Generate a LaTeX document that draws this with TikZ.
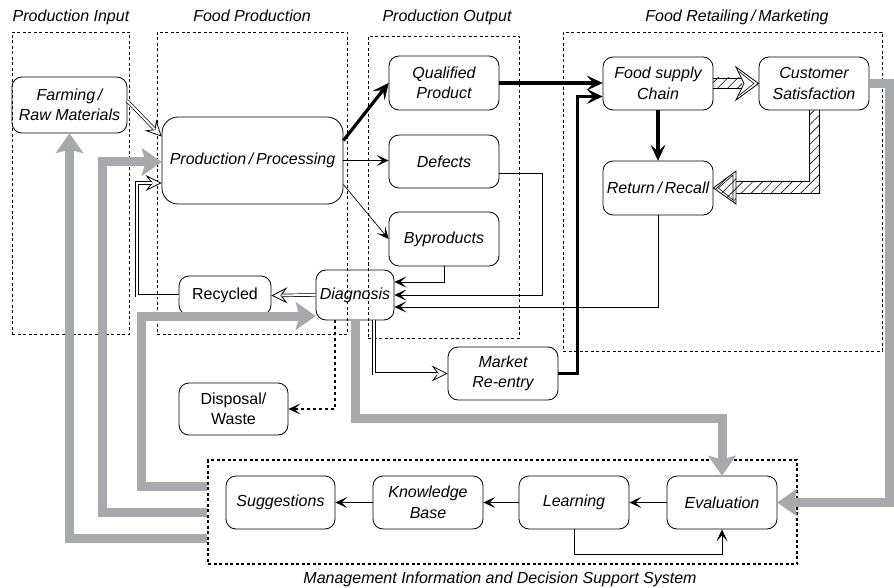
\documentclass[tikz,border=0pt]{standalone}
\usepackage{fontspec}
\setmainfont{Liberation Sans}
\usetikzlibrary{arrows.meta,patterns.meta,calc}
\definecolor{grayc}{RGB}{167,169,172}
\newcommand\dblarrow[1]{\draw[dtip] #1; \draw[dline] #1;}
\begin{document}
\begin{tikzpicture}[x=1pt,y=-1pt,
  every node/.style={font=\fontsize{16}{20.5}\selectfont},
  box/.style={draw, line width=0.8pt, rounded corners=10pt, align=center, inner sep=0pt, font=\fontsize{16}{20.5}\selectfont\itshape},
  ubox/.style={box, font=\fontsize{16}{20.5}\selectfont},
  grp/.style={draw, line width=0.8pt, dash pattern=on 3pt off 2.5pt, inner sep=0pt},
  ttl/.style={font=\fontsize{16}{20}\selectfont\itshape, anchor=base},
  ln/.style={line width=0.7pt, -{Stealth[length=12pt,width=11pt,inset=6pt]}},
  thk/.style={line width=3.2pt, -{Stealth[length=16pt,width=15pt,inset=7pt,line width=0.5pt]}},
  dtip/.style={line width=0.8pt, -{Stealth[fill=white,length=16pt,width=16pt,inset=6pt]}},
  dline/.style={double, double distance=2pt, line width=0.7pt, shorten >=10pt},
  gry/.style={draw=grayc, line width=9pt, line join=miter, -{Stealth[length=20pt,width=28pt,inset=4pt,line width=0.1pt]}},
  hatch/.style={pattern={Lines[angle=45,distance=7pt,line width=0.6pt]}}
]
\useasboundingbox (0,0) rectangle (894,588);

% group boxes
\node[grp, minimum width=117pt, minimum height=302pt] (pin) at (70.5,183) {};
\node[grp, minimum width=190pt, minimum height=302pt] (fp) at (252,183) {};
\node[grp, minimum width=151pt, minimum height=302pt] (pout) at (443.5,187) {};
\node[grp, minimum width=319pt, minimum height=319pt] (fr) at (722.5,191.5) {};
\node[grp, line width=1.1pt, minimum width=589pt, minimum height=104pt] (mis) at (502.5,512) {};

% titles
\node[ttl] (t1) at (71,22) {Production Input};
\node[ttl] (t2) at (252,22) {Food Production};
\node[ttl] (t3) at (447,22) {Production Output};
\node[ttl] (t4) at (737,22) {Food Retailing\,/\,Marketing};
\node[ttl] (t5) at (500,583) {Management Information and Decision Support System};

% nodes
\node[box, minimum width=115pt, minimum height=56pt] (farm) at (69.5,105) {Farming\,/\\Raw Materials};
\node[box, rounded corners=16pt, minimum width=181pt, minimum height=87pt] (prod) at (252.5,160.5) {Production\,/\,Processing};
\node[box, minimum width=110pt, minimum height=54pt] (qual) at (444,83) {Qualified\\Product};
\node[box, minimum width=110pt, minimum height=53pt] (def) at (444,161.5) {Defects};
\node[box, minimum width=110pt, minimum height=54pt] (byp) at (444,239) {Byproducts};
\node[box, minimum width=110pt, minimum height=53pt] (fsc) at (658,83.5) {Food supply\\Chain};
\node[box, minimum width=110pt, minimum height=53pt] (cust) at (814,83.5) {Customer\\Satisfaction};
\node[box, minimum width=110pt, minimum height=54pt] (ret) at (658,188) {Return\,/\,Recall};
\node[box, minimum width=78pt, minimum height=50pt] (diag) at (355,295) {Diagnosis};
\node[ubox, minimum width=92pt, minimum height=39pt] (rec) at (225,295.5) {Recycled};
\node[box, minimum width=110pt, minimum height=53pt] (mkt) at (503,373.5) {Market\\Re-entry};
\node[ubox, minimum width=109pt, minimum height=52pt] (disp) at (233.5,409) {Disposal/\\Waste};
\node[box, minimum width=109pt, minimum height=53pt] (sugg) at (280.5,502.5) {Suggestions};
\node[box, minimum width=110pt, minimum height=53pt] (kb) at (428,502.5) {Knowledge\\Base};
\node[box, minimum width=110pt, minimum height=53pt] (learn) at (574,502.5) {Learning};
\node[box, minimum width=110pt, minimum height=53pt] (eval) at (722,502.5) {Evaluation};

% helper coordinates
\coordinate (gR) at (889,0);
\coordinate (gB) at (0,418);
\coordinate (g1) at (141,316);
\coordinate (g2) at (102,162);
\coordinate (r1) at (137,183);
\coordinate (d1) at (542,295);
\coordinate (m1) at (374,0);
\coordinate (w1) at (335,0);

% gray feedback arrows
\draw[gry] (cust.east) -- (cust.east -| gR) |- (eval.east);
\draw[gry] (diag.south) |- (eval.north |- gB) -- (eval.north);
\draw[gry] (mis.west |- 0,486) -| (g1) -- (g1 -| diag.west);
\draw[gry] (mis.west |- 0,512) -| (g2) -- (g2 -| prod.west);
\draw[gry] (mis.west |- 0,538) -| (farm.south);

% double arrows
\dblarrow{([yshift=4pt]farm.east) -- ([yshift=24pt]prod.west)}
\dblarrow{(diag.west) -- (rec.east)}
\dblarrow{(rec.west) -| (r1) -- (r1 -| prod.west)}
\dblarrow{(diag.south -| m1) |- (mkt.west)}

% thick arrows
\draw[thk] ([yshift=20pt]prod.east) -- (qual.west);
\draw[thk] (qual.east) -- (qual.east -| fsc.west);
\draw[thk] (mkt.east) -| ([xshift=-25pt,yshift=-13pt]fsc.west) -- ([yshift=-13pt]fsc.west);
\draw[thk] (fsc.south) -- (ret.north);

% thin arrows
\draw[ln] (prod.east) -- (prod.east -| def.west);
\draw[ln] ([yshift=-24pt]prod.east) -- (byp.west);
\draw[ln] (byp.south) |- (diag.east |- 0,282);
\draw[ln] ([yshift=-12pt]def.east) -| (d1) -- (diag.east);
\draw[ln] (ret.south) |- (diag.east |- 0,307);
\draw[ln, dash pattern=on 3pt off 3pt, line width=1.1pt] (diag.south -| w1) |- (disp.east);
\draw[ln] (eval.west) -- (learn.east);
\draw[ln] (learn.west) -- (kb.east);
\draw[ln] (kb.west) -- (sugg.east);
\draw[ln] (learn.south) -- ++(0,25) -| (eval.south);

% hatched arrows
\path[hatch] (fsc.east |- 0,78) rectangle (742,88);
\draw[line width=0.8pt] (fsc.east |- 0,78) -- (742,78) (fsc.east |- 0,88) -- (742,88);
\filldraw[line width=0.8pt, fill=white, line join=miter] (736,67) -- (cust.west) -- (736,100) -- (744,83.5) -- cycle;
\draw[line width=0.6pt, line join=miter] (739,71.5) -- (754,83.5) -- (739,95.5);

\path[hatch] (809,110) -- (809,181) -- (735,181) -- (735,193) -- (819,193) -- (819,110) -- cycle;
\draw[line width=0.8pt] (809,110) -- (809,181) -- (735,181) (735,193) -- (819,193) -- (819,110);
\filldraw[line width=0.8pt, fill=white, line join=miter] (ret.east) -- (736,171) -- (736,204) -- cycle;
\path[hatch] (ret.east) -- (736,171) -- (736,204) -- cycle;
\draw[line width=0.6pt] ($(ret.east)+(5,0)$) -- (733,175) -- (733,200) -- cycle;
\end{tikzpicture}
\end{document}
